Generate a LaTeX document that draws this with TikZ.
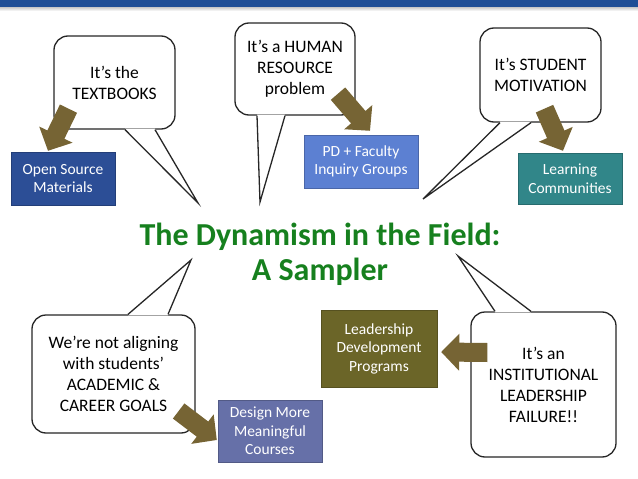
\documentclass[tikz,border=0pt]{standalone}
\usepackage{fontspec}
\setmainfont{Carlito}
\usetikzlibrary{arrows.meta}

\definecolor{barblue}{RGB}{31,78,150}
\definecolor{titlegreen}{RGB}{22,128,30}
\definecolor{pushbrown}{RGB}{118,100,52}
\definecolor{osmblue}{RGB}{44,78,150}
\definecolor{pdblue}{RGB}{92,128,210}
\definecolor{lcteal}{RGB}{49,134,137}
\definecolor{ldpolive}{RGB}{107,101,40}
\definecolor{dmcslate}{RGB}{102,112,168}

\begin{document}
\begin{tikzpicture}[x=1pt, y=-1pt,
  bubble/.style={draw=black!85, fill=white, line width=1.3pt, rounded corners=14pt,
    align=center, inner sep=0pt, font=\fontsize{17.5}{21}\selectfont},
  fixbox/.style={fill=#1, draw=#1!80!black, text=white, align=center, inner sep=0pt,
    font=\fontsize{15.5}{18.5}\selectfont},
  tail/.style={draw=black!85, line width=1.3pt, line join=miter},
  push/.style={draw=pushbrown, line width=19pt,
    -{Triangle[width=36pt,length=18pt]}}]

\useasboundingbox (0,0) rectangle (638,479);

% top bar
\path[fill=barblue] (0,0) rectangle (638,7);
\path[top color=black!22, bottom color=white] (0,7) rectangle (638,11);

% title
\node[text=titlegreen, align=center, font=\fontsize{32}{35}\selectfont\bfseries]
  (title) at (320,254) {The Dynamism in the Field:\\A Sampler};

% speech bubbles
\node[bubble, minimum width=121pt, minimum height=93pt] (txt) at (114.5,82.5)
  {It’s the\\TEXTBOOKS};
\node[bubble, minimum width=120pt, minimum height=92pt] (hum) at (295,69)
  {It’s a HUMAN\\RESOURCE\\problem};
\node[bubble, minimum width=121pt, minimum height=94pt] (mot) at (540.5,75)
  {It’s STUDENT\\MOTIVATION};
\node[bubble, minimum width=163pt, minimum height=118pt] (goal) at (113.5,374)
  {We’re not aligning\\with students’\\ACADEMIC \&\\CAREER GOALS};
\node[bubble, minimum width=145pt, minimum height=145pt] (lead) at (543.5,384.5)
  {It’s an\\INSTITUTIONAL\\LEADERSHIP\\FAILURE!!};

% tails pointing at the title
\coordinate (tipA) at (198,203);
\coordinate (tipB) at (260,202);
\coordinate (tipC) at (423,199);
\coordinate (tipD) at (191,260);
\coordinate (tipE) at (458,256);

\path[fill=white] ([shift={(10.5,-1)}]txt.south) -- (tipA) -- ([shift={(40.5,-1)}]txt.south) -- cycle;
\path[tail] ([xshift=10.5pt]txt.south) -- (tipA) -- ([xshift=40.5pt]txt.south);

\path[fill=white] ([shift={(-38,-1)}]hum.south) -- (tipB) -- ([shift={(-10,-1)}]hum.south) -- cycle;
\path[tail] ([xshift=-38pt]hum.south) -- (tipB) -- ([xshift=-10pt]hum.south);

\path[fill=white] ([shift={(-40.5,-1)}]mot.south) -- (tipC) -- ([shift={(-9.5,-1)}]mot.south) -- cycle;
\path[tail] ([xshift=-40.5pt]mot.south) -- (tipC) -- ([xshift=-9.5pt]mot.south);

\path[fill=white] ([shift={(14.5,1)}]goal.north) -- (tipD) -- ([shift={(54.5,1)}]goal.north) -- cycle;
\path[tail] ([xshift=14.5pt]goal.north) -- (tipD) -- ([xshift=54.5pt]goal.north);

\path[fill=white] ([shift={(-48.5,1)}]lead.north) -- (tipE) -- ([shift={(-12.5,1)}]lead.north) -- cycle;
\path[tail] ([xshift=-48.5pt]lead.north) -- (tipE) -- ([xshift=-12.5pt]lead.north);

% answers
\node[fixbox=osmblue, minimum width=104pt, minimum height=53pt] (osm) at (63,178.5)
  {Open Source\\Materials};
\node[fixbox=pdblue, minimum width=114pt, minimum height=53pt] (pd) at (361,161.5)
  {PD + Faculty\\Inquiry Groups};
\node[fixbox=lcteal, minimum width=104pt, minimum height=51pt] (lc) at (570,178.5)
  {Learning\\Communities};
\node[fixbox=ldpolive, minimum width=116pt, minimum height=77pt] (ldp) at (379,348.5)
  {Leadership\\Development\\Programs};
\node[fixbox=dmcslate, minimum width=104pt, minimum height=62pt] (dmc) at (270,431)
  {Design More\\Meaningful\\Courses};

% block arrows
\draw[push] ([shift={(-46,-21)}]txt.south) -- ([shift={(-15,-1)}]osm.north);
\draw[push] ([shift={(43,-22)}]hum.south) -- ([shift={(9,-4)}]pd.north);
\draw[push] ([shift={(4,-14)}]mot.south) -- ([shift={(-7,-2)}]lc.north);
\draw[push] ([shift={(-17,37)}]goal.east) -- ([shift={(-1,9)}]dmc.west);
\draw[push] ([shift={(17,-32)}]lead.west) -- ([shift={(4,3.5)}]ldp.east);

\end{tikzpicture}
\end{document}
